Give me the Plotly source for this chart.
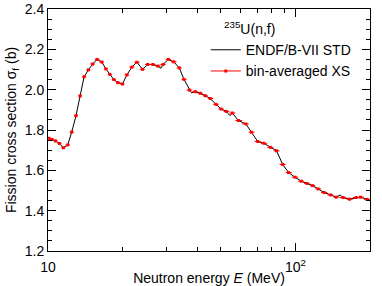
import numpy as np
import plotly.graph_objects as go

# ENDF/B-VII standard
endf_E = [10.0, 10.09, 10.38, 10.72, 11.13, 11.53, 12.02, 12.47, 12.98, 13.48, 13.99, 14.56,
          15.14, 15.79, 16.50, 17.13, 17.77, 18.45, 19.15, 19.99, 20.83, 21.82, 22.86, 24.09,
          25.28, 26.54, 27.81, 28.6, 29.16, 30.61, 32.22, 33.92, 35.43, 37.23, 38.0, 39.37,
          41.25, 43.21, 45.28, 47.74, 50.04, 52.56, 54.41, 55.59, 58.78, 63.03, 66.36, 70.37,
          74.55, 79.20, 83.78, 88.84, 93.70, 99.54, 105.5, 111.3, 117.2, 123.4, 130.5, 138.6,
          145.9, 151.4, 155.7, 165.4, 175.8, 183.3, 194.8, 200.0]
endf_xs = [1.760, 1.759, 1.753, 1.746, 1.733, 1.712, 1.726, 1.790, 1.871, 1.969, 2.064, 2.098,
           2.127, 2.150, 2.137, 2.103, 2.076, 2.050, 2.035, 2.028, 2.073, 2.112, 2.136, 2.101,
           2.125, 2.125, 2.117, 2.106, 2.125, 2.150, 2.138, 2.108, 2.051, 1.998, 1.984, 1.990,
           1.982, 1.970, 1.956, 1.927, 1.904, 1.892, 1.871, 1.884, 1.847, 1.830, 1.789, 1.743,
           1.734, 1.714, 1.697, 1.629, 1.589, 1.566, 1.546, 1.535, 1.524, 1.508, 1.490, 1.478,
           1.467, 1.478, 1.465, 1.457, 1.465, 1.467, 1.456, 1.453]

# bin-averaged cross sections
bin_E = [10.09, 10.38, 10.72, 11.13, 11.53, 12.02, 12.47, 12.98, 13.48, 13.99, 14.56, 15.14,
         15.79, 16.50, 17.13, 17.77, 18.45, 19.15, 19.99, 20.83, 21.82, 22.86, 24.09, 25.28,
         26.54, 27.81, 29.16, 30.61, 32.22, 33.92, 35.43, 37.23, 39.37, 41.25, 43.21, 45.28,
         47.74, 50.04, 52.56, 55.59, 58.78, 63.03, 66.36, 70.37, 74.55, 79.20, 83.78, 88.84,
         93.70, 99.54, 105.5, 111.3, 117.2, 123.4, 130.5, 138.6, 145.9, 155.7, 165.4, 175.8,
         183.3, 194.8]
bin_xs = [1.759, 1.753, 1.746, 1.733, 1.712, 1.726, 1.790, 1.871, 1.969, 2.064, 2.098, 2.127,
          2.150, 2.137, 2.103, 2.076, 2.050, 2.035, 2.028, 2.073, 2.112, 2.136, 2.101, 2.125,
          2.125, 2.117, 2.125, 2.150, 2.138, 2.108, 2.051, 1.998, 1.990, 1.982, 1.970, 1.956,
          1.927, 1.904, 1.892, 1.884, 1.847, 1.830, 1.789, 1.743, 1.734, 1.714, 1.697, 1.629,
          1.589, 1.566, 1.546, 1.535, 1.524, 1.508, 1.490, 1.478, 1.467, 1.465, 1.457, 1.465,
          1.467, 1.456]

x_tickvals = [10, 100]
x_ticktext = ["10", "10<sup>2</sup>"]
x_minor = [20, 30, 40, 50, 60, 70, 80, 90, 200]

# bin edges: geometric midpoints between neighbouring bin centres
e = np.array(bin_E)
mids = np.sqrt(e[1:] * e[:-1])
lo = np.concatenate([[e[0] ** 2 / mids[0]], mids])
hi = np.concatenate([mids, [e[-1] ** 2 / mids[-1]]])

FONT = "Liberation Sans, Arial, Helvetica, sans-serif"

fig = go.Figure()
fig.add_trace(go.Scatter(x=endf_E, y=endf_xs, mode="lines", name="ENDF/B-VII STD",
                         line=dict(color="black", width=1)))
fig.add_trace(go.Scatter(x=bin_E, y=bin_xs, mode="markers", showlegend=False,
                         marker=dict(color="red", size=3, symbol="square"),
                         error_x=dict(type="data", symmetric=False, array=list(hi - e),
                                      arrayminus=list(e - lo), color="red", thickness=1, width=0)))
fig.add_trace(go.Scatter(x=[None], y=[None], mode="lines+markers", name="bin-averaged XS",
                         line=dict(color="red", width=1),
                         marker=dict(color="red", size=3, symbol="square")))

fig.update_layout(
    width=382, height=286,
    margin=dict(l=48, r=12, t=9, b=35),
    paper_bgcolor="white", plot_bgcolor="white",
    font=dict(family=FONT, size=14, color="black"),
    showlegend=True,
    legend=dict(x=0.49, y=0.896, xanchor="left", yanchor="top",
                bgcolor="rgba(0,0,0,0)", borderwidth=0,
                font=dict(size=14), tracegroupgap=0),
    annotations=[dict(text="<sup>235</sup>U(n,f)", xref="paper", yref="paper",
                      x=0.54, y=0.922, xanchor="left", yanchor="middle",
                      showarrow=False, font=dict(size=14))],
    xaxis=dict(type="log", range=[1, np.log10(200)], automargin=False,
               tickmode="array", tickvals=x_tickvals, ticktext=x_ticktext,
               ticks="inside", ticklen=8, tickwidth=1, tickcolor="black",
               ticklabelstandoff=3,
               minor=dict(tickmode="array", tickvals=x_minor, ticks="inside",
                          ticklen=4, tickwidth=1, tickcolor="black", showgrid=False),
               showline=True, linecolor="black", linewidth=1, mirror="ticks",
               showgrid=False, zeroline=False,
               title=dict(text="Neutron energy <i>E</i> (MeV)", standoff=0,
                          font=dict(size=14))),
    yaxis=dict(range=[1.2, 2.4], dtick=0.2, tick0=1.2, tickformat=".1f", automargin=False,
               ticks="inside", ticklen=8, tickwidth=1, tickcolor="black",
               minor=dict(dtick=0.05, ticks="inside", ticklen=4, tickwidth=1,
                          tickcolor="black", showgrid=False),
               showline=True, linecolor="black", linewidth=1, mirror="ticks",
               showgrid=False, zeroline=False,
               title=dict(text="Fission cross section σ<sub>f</sub> (b)", standoff=4,
                          font=dict(size=14))),
)

fig.write_html("out.html", config={"displayModeBar": False},
               post_script="document.body.style.margin='0';document.body.style.overflow='hidden';")
